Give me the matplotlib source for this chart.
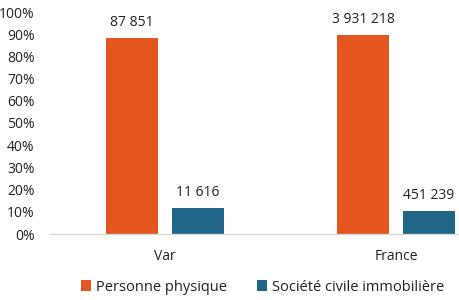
import numpy as np
import matplotlib
matplotlib.use('Agg')
from matplotlib import pyplot as plt
from matplotlib.ticker import PercentFormatter

plt.rcParams['font.family'] = ['Open Sans', 'DejaVu Sans']

categories = ['Var', 'France']
series = ['Personne physique', 'Société civile immobilière']
personne = [87851, 3931218]
sci = [11616, 451239]
colors = ['#E5561E', '#1F6688']

totals = np.array(personne) + np.array(sci)
shares = [np.array(personne) / totals, np.array(sci) / totals]
counts = [personne, sci]


def fmt(n):
    return f'{n:,}'.replace(',', ' ')


fig = plt.figure(figsize=(4.6, 3.0), dpi=100)
ax = fig.add_axes([50 / 460, 66 / 300, 410 / 460, 222 / 300])

x = np.arange(len(categories))
w = 0.225
off = 0.143
for i, (name, col) in enumerate(zip(series, colors)):
    pos = x + (off if i else -off)
    bars = ax.bar(pos, shares[i], w, color=col, label=name)
    for b, n in zip(bars, counts[i]):
        ax.annotate(fmt(n), (b.get_x() + b.get_width() / 2, b.get_height()),
                    xytext=(0, 6), textcoords='offset points',
                    ha='center', va='bottom', fontsize=10, color='#222222')

ax.set_xlim(-0.498, 1.277)
ax.set_ylim(0, 1)
ax.set_yticks(np.arange(0, 1.01, 0.1))
ax.yaxis.set_major_formatter(PercentFormatter(1, decimals=0))
ax.set_xticks(x)
ax.set_xticklabels(categories)
ax.tick_params(length=0, labelsize=10, colors='#222222')
ax.tick_params(axis='x', pad=11)
ax.tick_params(axis='y', pad=11)
for s in ['top', 'right', 'left']:
    ax.spines[s].set_visible(False)
ax.spines['bottom'].set_color('#d9d9d9')
ax.spines['bottom'].set_linewidth(1)

fig.legend(loc='center', bbox_to_anchor=(0.571, 0.043), ncol=2, frameon=False,
           fontsize=10.5, handlelength=0.7, handleheight=0.7,
           handletextpad=0.35, columnspacing=2.0, labelcolor='#222222',
           borderpad=0)

plt.savefig('out.png')
